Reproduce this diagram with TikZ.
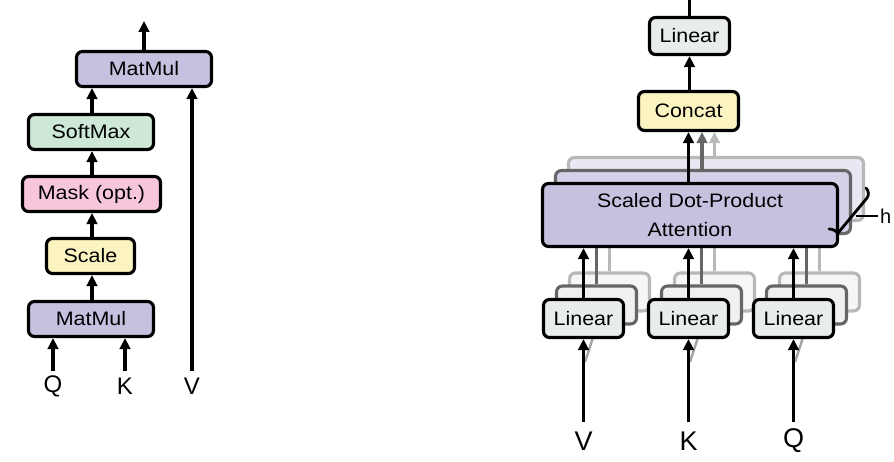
\documentclass[tikz,border=0pt]{standalone}
\usepackage{fontspec}
\setmainfont{Liberation Sans}[FakeStretch=1.1]
\newfontfamily\lblfont{Liberation Sans}
\usetikzlibrary{arrows.meta}
\definecolor{cpurple}{HTML}{C7C1E0}
\definecolor{cgreen}{HTML}{CDE8D6}
\definecolor{cpink}{HTML}{F7C6DD}
\definecolor{cyellow}{HTML}{FBF4C1}
\definecolor{clinear}{HTML}{E8EDEC}
\definecolor{cpurpleB}{HTML}{D6D1E8}
\definecolor{cpurpleC}{HTML}{EAE7F3}
\definecolor{clinearB}{HTML}{EEF1F0}
\definecolor{clinearC}{HTML}{F5F7F6}
\definecolor{gdark}{HTML}{666666}
\definecolor{glight}{HTML}{B8B8B8}
\begin{document}
\begin{tikzpicture}[x=1pt,y=-1pt,
  box/.style={draw=black, line width=3.1pt, rounded corners=6pt, inner sep=0pt,
    font=\fontsize{19.5}{29}\selectfont, align=center},
  shadowB/.style={box, draw=gdark},
  shadowC/.style={box, draw=glight},
  arr/.style={-{Triangle[length=11pt,width=10.5pt]}, line width=3.1pt},
  arrB/.style={arr, draw=gdark, color=gdark},
  arrC/.style={arr, draw=glight, color=glight},
  lblL/.style={font=\lblfont\fontsize{24}{24}\selectfont, inner sep=0pt},
  lblR/.style={font=\lblfont\fontsize{27}{27}\selectfont, inner sep=0pt}]
\useasboundingbox (0,0) rectangle (894,462);

% ---------------- left: scaled dot-product attention ----------------
\node[box, fill=cpurple, minimum width=135pt, minimum height=35pt] (mmTop) at (144,69) {MatMul};
\node[box, fill=cgreen, minimum width=125pt, minimum height=35pt] (soft) at (91,132) {SoftMax};
\node[box, fill=cpink, minimum width=138pt, minimum height=35pt] (mask) at (91.5,194) {Mask (opt.)};
\node[box, fill=cyellow, minimum width=88pt, minimum height=35pt] (scale) at (90.5,256) {Scale};
\node[box, fill=cpurple, minimum width=125pt, minimum height=35pt] (mmBot) at (91,319) {MatMul};

\coordinate (colL) at (92,0);
\draw[arr] (mmBot.north -| colL) -- (scale.south -| colL);
\draw[arr] (scale.north -| colL) -- (mask.south -| colL);
\draw[arr] (mask.north -| colL) -- (soft.south -| colL);
\draw[arr] (soft.north -| colL) -- (mmTop.south -| colL);

\coordinate (outL) at (144,21);
\draw[arr] (mmTop.north) -- (outL);

\coordinate (qL) at (53,371);
\coordinate (kL) at (125,371);
\coordinate (vL) at (192,371);
\draw[arr] (qL) -- (qL |- mmBot.south);
\draw[arr] (kL) -- (kL |- mmBot.south);
\draw[arr] (vL) -- (vL |- mmTop.south);
\node[lblL] (qLt) at (53,386) {Q};
\node[lblL] (kLt) at (125,386) {K};
\node[lblL] (vLt) at (192,386) {V};

% ---------------- right: multi-head attention ----------------
% shadow copies (third, then second)
\node[shadowC, fill=cpurpleC, minimum width=295pt, minimum height=63pt] (sdpa3) at (716,189) {};
\node[shadowC, fill=clinearC, minimum width=80pt, minimum height=38pt] (linV3) at (609.5,292) {};
\node[shadowC, fill=clinearC, minimum width=80pt, minimum height=38pt] (linK3) at (714.5,292) {};
\node[shadowC, fill=clinearC, minimum width=80pt, minimum height=38pt] (linQ3) at (819.5,292) {};
\draw[line width=3pt, glight] (linV3.north) -- (linV3.north |- sdpa3.south);
\draw[line width=3pt, glight] (linK3.north) -- (linK3.north |- sdpa3.south);
\draw[line width=3pt, glight] (linQ3.north) -- (linQ3.north |- sdpa3.south);

\node[shadowB, fill=cpurpleB, minimum width=295pt, minimum height=63pt] (sdpa2) at (703,202) {};
\node[shadowB, fill=clinearB, minimum width=80pt, minimum height=38pt] (linV2) at (596.5,305) {};
\node[shadowB, fill=clinearB, minimum width=80pt, minimum height=38pt] (linK2) at (701.5,305) {};
\node[shadowB, fill=clinearB, minimum width=80pt, minimum height=38pt] (linQ2) at (806.5,305) {};
\draw[line width=3pt, gdark] (linV2.north) -- (linV2.north |- sdpa2.south);
\draw[line width=3pt, gdark] (linK2.north) -- (linK2.north |- sdpa2.south);
\draw[line width=3pt, gdark] (linQ2.north) -- (linQ2.north |- sdpa2.south);

% main boxes
\node[box, fill=cpurple, minimum width=295pt, minimum height=63pt] (sdpa) at (690,215) {Scaled Dot-Product\\Attention};
\node[box, fill=cyellow, minimum width=100pt, minimum height=39pt] (concat) at (688.5,111) {Concat};
\node[box, fill=clinear, minimum width=80pt, minimum height=37pt] (linTop) at (689.5,36) {Linear};

\coordinate (cB) at (702,0);
\coordinate (cC) at (714.5,0);
\draw[arrC] (sdpa3.north -| cC) -- (concat.south -| cC);
\draw[arrB] (sdpa2.north -| cB) -- (concat.south -| cB);
\draw[arr] (sdpa.north -| concat.south) -- (concat.south);
\draw[arr] (concat.north -| linTop.south) -- (linTop.south);
\coordinate (outR) at (689.5,0);
\draw[line width=3.1pt] (linTop.north) -- (outR);

% input shadows (faint)
\draw[line width=2.4pt, gdark!60] (585,362) -- (597,325);
\draw[line width=2.4pt, gdark!60] (690,362) -- (702,325);
\draw[line width=2.4pt, gdark!60] (795,362) -- (807,325);

\node[box, fill=clinear, minimum width=80pt, minimum height=38pt] (linV) at (583.5,318.5) {Linear};
\node[box, fill=clinear, minimum width=80pt, minimum height=38pt] (linK) at (688.5,318.5) {Linear};
\node[box, fill=clinear, minimum width=80pt, minimum height=38pt] (linQ) at (793.5,318.5) {Linear};

\draw[arr] (linV.north) -- (linV.north |- sdpa.south);
\draw[arr] (linK.north) -- (linK.north |- sdpa.south);
\draw[arr] (linQ.north) -- (linQ.north |- sdpa.south);

\coordinate (vR) at (583.5,422);
\coordinate (kR) at (688.5,422);
\coordinate (qR) at (793.5,422);
\draw[arr] (vR) -- (linV.south);
\draw[arr] (kR) -- (linK.south);
\draw[arr] (qR) -- (linQ.south);
\node[lblR] (vRt) at (583.5,441) {V};
\node[lblR] (kRt) at (688.5,441) {K};
\node[lblR] (qRt) at (793.5,441) {Q};

% h brace
\draw[line width=2.8pt, line cap=round, line join=round]
  (829,229) .. controls (833,229) and (836,231) .. (838,233)
  -- (867,198) .. controls (869,195) and (869,191) .. (866,188);
\coordinate (hA) at (856,216);
\node[font=\lblfont\fontsize{20}{20}\selectfont, inner sep=0pt, anchor=west] (hlbl) at (880,216) {h};
\draw[line width=2pt] (hA) -- ([xshift=-2pt]hlbl.west);
\end{tikzpicture}
\end{document}
